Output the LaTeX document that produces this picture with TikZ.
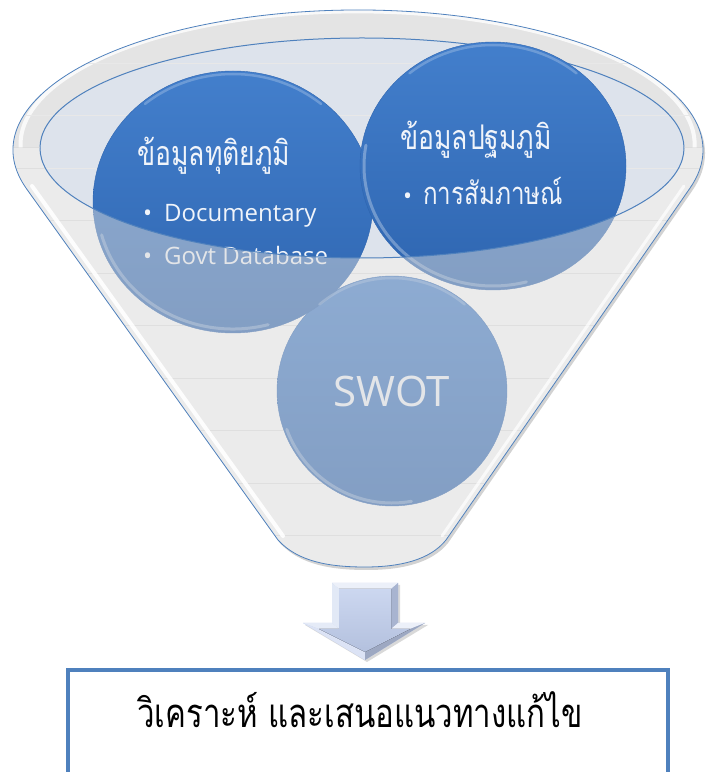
\documentclass[tikz,border=0pt]{standalone}
\usepackage{fontspec}
\setmainfont{Open Sans}
\newfontfamily\thaifont[Script=Thai, FakeStretch=0.78]{Loma}
\usetikzlibrary{shapes.geometric}

\definecolor{rimblue}{HTML}{4F81BD}
\definecolor{ballhi}{HTML}{437FCC}
\definecolor{balllo}{HTML}{2E65B0}
\definecolor{mouthgray}{HTML}{DDE3EC}
\definecolor{rimgray}{HTML}{E4E4E4}
\definecolor{frontgray}{HTML}{D8D8D8}
\definecolor{ballink}{HTML}{F0F4FA}
\definecolor{arrowface}{HTML}{BFCDEC}

\tikzset{
	funnel/.style={insert path={(278,232) -- (26.4,583.4)
		arc[start angle=196, end angle=-16, x radius=345, y radius=140]
		-- (446,232) .. controls (430,212) and (400,205) .. (365,205)
		.. controls (330,205) and (298,210) .. (278,232) -- cycle}},
	ball/.style={ellipse, inner sep=0pt, top color=ballhi, bottom color=balllo, draw=balllo, line width=0.4pt},
	balltext/.style={text=ballink, anchor=base west, inner sep=0pt},
	glint/.style={white, line width=3pt, opacity=0.3, line cap=round},
	tophi/.style={ballhi!50!white, line width=2.5pt, opacity=0.45, line cap=round},
	gridline/.style={gray!18, line width=0.5pt},
	rimline/.style={rimblue, line width=1pt}
}

\begin{document}
\begin{tikzpicture}[x=1pt, y=1pt]
	\useasboundingbox (0,0) rectangle (705,772);

	\fill[gray!35, shift={(2,-3)}, funnel];
	\fill[white, funnel];
	\begin{scope}
		\clip (0,624) rectangle (705,772);
		\fill[rimgray] (358,622) ellipse[x radius=345, y radius=140];
	\end{scope}
	\draw[white, line width=4pt, opacity=0.8] (28,600) arc[start angle=192, end angle=-12, x radius=337, y radius=133];
	\fill[mouthgray] (362,624) ellipse[x radius=322, y radius=110];
	\begin{scope}
		\clip[funnel];
		\foreach \k in {1,...,10}
			\draw[gridline] (0,{761.5-52.5*\k}) -- (705,{761.5-52.5*\k});
	\end{scope}
	\draw[rimline] (40,624) arc[start angle=180, end angle=0, x radius=322, y radius=110];

	\node[ball, minimum size=230pt, text=ballink, font=\fontsize{42}{50}\selectfont] (swot) at (392,381) {SWOT};
	\node[ball, minimum width=280pt, minimum height=262pt] (second) at (233,570) {};
	\draw[glint] ([shift={(195:136 and 127)}]second.center) arc[start angle=195, end angle=285, x radius=136, y radius=127];
	\draw[tophi] ([shift={(50:137 and 128)}]second.center) arc[start angle=50, end angle=130, x radius=137, y radius=128];
	\node[ball, minimum width=266pt, minimum height=248pt] (primary) at (493,606) {};
	\draw[glint] ([shift={(170:129 and 120)}]primary.center) arc[start angle=170, end angle=285, x radius=129, y radius=120];
	\draw[tophi] ([shift={(50:130 and 121)}]primary.center) arc[start angle=50, end angle=130, x radius=130, y radius=121];
	\draw[glint] ([shift={(200:112 and 112)}]swot.center) arc[start angle=200, end angle=280, radius=112];
	\draw[tophi] ([shift={(50:113 and 113)}]swot.center) arc[start angle=50, end angle=130, radius=113];

	\node[balltext, font=\thaifont\fontsize{34}{40}\selectfont] (secTitle) at (137,606) {ข้อมูลทุติยภูมิ};
	\node[balltext, font=\fontsize{24}{28}\selectfont] (secDoc) at (143,550) {\makebox[21pt][l]{•}Documentary};
	\node[balltext, font=\fontsize{24}{28}\selectfont] (secGov) at (143,507) {\makebox[21pt][l]{•}Govt Database};
	\node[balltext, font=\thaifont\fontsize{34}{40}\selectfont] (priTitle) at (400,622) {ข้อมูลปฐมภูมิ};
	\node[balltext, font=\thaifont\fontsize{31}{36}\selectfont] (priItem) at (403,567) {\makebox[20pt][l]{\fontsize{24}{28}\rmfamily •}การสัมภาษณ์};

	\begin{scope}
		\clip (0,0) rectangle (705,624);
		\fill[frontgray, opacity=0.5, even odd rule, funnel] (362,624) ellipse[x radius=322, y radius=110];
	\end{scope}
	\draw[rimline] (40,624) arc[start angle=180, end angle=360, x radius=322, y radius=110];
	\draw[white, line width=4pt, opacity=0.9, line cap=round] (32,586) -- (283,236);
	\draw[white, line width=3pt, opacity=0.7, line cap=round] (684,586) -- (442,236);
	\draw[rimblue, line width=0.8pt, funnel];

	\node[draw=rimblue, line width=4pt, fill=white, minimum width=600pt, minimum height=200pt, anchor=north, inner sep=0pt] (result) at (368,104) {};
	\node[anchor=base, inner sep=0pt, font=\thaifont\fontsize{40}{46}\selectfont] (resultText) at (360,44) {วิเคราะห์ และเสนอแนวทางแก้ไข};

	\fill[gray!30] (334,187) -- (400,187) -- (400,147) -- (428,147) -- (367,110) -- (305,147) -- (334,147) -- cycle;
	\fill[arrowface] (332,189) -- (398,189) -- (398,149) -- (425,149) -- (365,112) -- (303,149) -- (332,149) -- cycle;
	\fill[white!70!arrowface] (332,189) -- (398,189) -- (391,183) -- (339,183) -- cycle;
	\fill[white!55!arrowface] (332,189) -- (339,183) -- (339,143) -- (332,149) -- cycle;
	\fill[black!12!arrowface] (398,189) -- (391,183) -- (391,143) -- (398,149) -- cycle;
	\fill[white!60!arrowface] (332,149) -- (339,143) -- (319,143) -- (303,149) -- cycle;
	\fill[white!70!arrowface] (398,149) -- (391,143) -- (410,143) -- (425,149) -- cycle;
	\fill[white!45!arrowface] (303,149) -- (319,143) -- (365,120) -- (365,112) -- cycle;
	\fill[black!18!arrowface] (425,149) -- (410,143) -- (365,120) -- (365,112) -- cycle;
	\fill[top color=white!20!arrowface, bottom color=black!6!arrowface] (339,183) -- (391,183) -- (391,143) -- (410,143) -- (365,120) -- (319,143) -- (339,143) -- cycle;
\end{tikzpicture}
\end{document}
